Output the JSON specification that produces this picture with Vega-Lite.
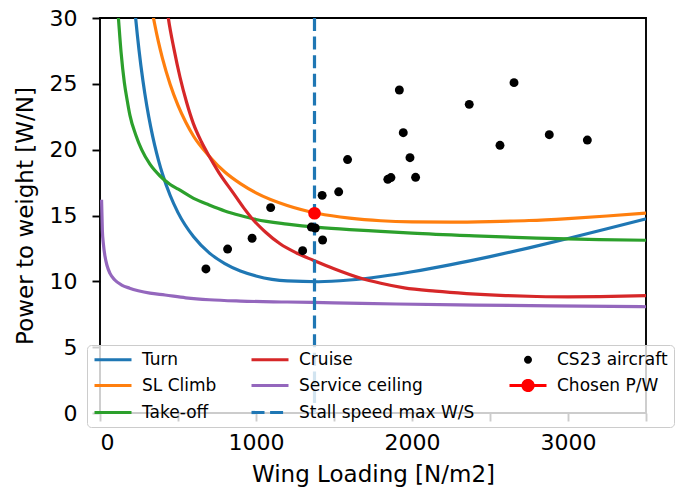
{
  "$schema": "https://vega.github.io/schema/vega-lite/v6.json",
  "width": 546,
  "height": 395,
  "autosize": {"type": "none"},
  "padding": {"left": 100, "top": 18, "right": 32, "bottom": 77},
  "background": "white",
  "config": {
    "view": {"stroke": "#000000", "strokeWidth": 1.9},
    "font": "DejaVu Sans",
    "axis": {
      "domain": false,
      "grid": false,
      "tickColor": "#000000",
      "tickWidth": 1.9,
      "tickSize": 8,
      "labelColor": "#000000",
      "labelFont": "DejaVu Sans",
      "labelFontSize": 22,
      "titleColor": "#000000",
      "titleFont": "DejaVu Sans",
      "titleFontSize": 23,
      "titleFontWeight": "normal"
    }
  },
  "datasets": {
    "curves": [
      {"series": "Turn", "wl": 200, "pw": 34.02},
      {"series": "Turn", "wl": 220, "pw": 31.08},
      {"series": "Turn", "wl": 250, "pw": 27.57},
      {"series": "Turn", "wl": 275, "pw": 25.25},
      {"series": "Turn", "wl": 300, "pw": 23.33},
      {"series": "Turn", "wl": 325, "pw": 21.73},
      {"series": "Turn", "wl": 350, "pw": 20.36},
      {"series": "Turn", "wl": 375, "pw": 19.19},
      {"series": "Turn", "wl": 400, "pw": 18.17},
      {"series": "Turn", "wl": 450, "pw": 16.52},
      {"series": "Turn", "wl": 500, "pw": 15.22},
      {"series": "Turn", "wl": 600, "pw": 13.38},
      {"series": "Turn", "wl": 700, "pw": 12.16},
      {"series": "Turn", "wl": 800, "pw": 11.34},
      {"series": "Turn", "wl": 900, "pw": 10.78},
      {"series": "Turn", "wl": 1000, "pw": 10.41},
      {"series": "Turn", "wl": 1200, "pw": 10.03},
      {"series": "Turn", "wl": 1400, "pw": 9.97},
      {"series": "Turn", "wl": 1600, "pw": 10.1},
      {"series": "Turn", "wl": 1800, "pw": 10.37},
      {"series": "Turn", "wl": 2000, "pw": 10.73},
      {"series": "Turn", "wl": 2250, "pw": 11.27},
      {"series": "Turn", "wl": 2500, "pw": 11.88},
      {"series": "Turn", "wl": 2750, "pw": 12.54},
      {"series": "Turn", "wl": 3000, "pw": 13.25},
      {"series": "Turn", "wl": 3250, "pw": 13.99},
      {"series": "Turn", "wl": 3500, "pw": 14.75},

      {"series": "SL Climb", "wl": 300, "pw": 33.05},
      {"series": "SL Climb", "wl": 330, "pw": 30.82},
      {"series": "SL Climb", "wl": 350, "pw": 29.56},
      {"series": "SL Climb", "wl": 375, "pw": 28.16},
      {"series": "SL Climb", "wl": 400, "pw": 26.95},
      {"series": "SL Climb", "wl": 450, "pw": 24.95},
      {"series": "SL Climb", "wl": 500, "pw": 23.36},
      {"series": "SL Climb", "wl": 550, "pw": 22.08},
      {"series": "SL Climb", "wl": 600, "pw": 21.02},
      {"series": "SL Climb", "wl": 700, "pw": 19.5},
      {"series": "SL Climb", "wl": 800, "pw": 18.3},
      {"series": "SL Climb", "wl": 900, "pw": 17.42},
      {"series": "SL Climb", "wl": 1000, "pw": 16.72},
      {"series": "SL Climb", "wl": 1200, "pw": 15.76},
      {"series": "SL Climb", "wl": 1400, "pw": 15.15},
      {"series": "SL Climb", "wl": 1600, "pw": 14.8},
      {"series": "SL Climb", "wl": 1800, "pw": 14.6},
      {"series": "SL Climb", "wl": 2000, "pw": 14.52},
      {"series": "SL Climb", "wl": 2250, "pw": 14.5},
      {"series": "SL Climb", "wl": 2500, "pw": 14.54},
      {"series": "SL Climb", "wl": 2750, "pw": 14.62},
      {"series": "SL Climb", "wl": 3000, "pw": 14.77},
      {"series": "SL Climb", "wl": 3250, "pw": 14.96},
      {"series": "SL Climb", "wl": 3500, "pw": 15.18},

      {"series": "Take-off", "wl": 105, "pw": 32.0},
      {"series": "Take-off", "wl": 118, "pw": 30.0},
      {"series": "Take-off", "wl": 135, "pw": 27.4},
      {"series": "Take-off", "wl": 156, "pw": 25.1},
      {"series": "Take-off", "wl": 175, "pw": 23.7},
      {"series": "Take-off", "wl": 192, "pw": 22.6},
      {"series": "Take-off", "wl": 230, "pw": 21.1},
      {"series": "Take-off", "wl": 267, "pw": 20.0},
      {"series": "Take-off", "wl": 320, "pw": 18.9},
      {"series": "Take-off", "wl": 385, "pw": 18.0},
      {"series": "Take-off", "wl": 450, "pw": 17.35},
      {"series": "Take-off", "wl": 502, "pw": 17.0},
      {"series": "Take-off", "wl": 600, "pw": 16.3},
      {"series": "Take-off", "wl": 700, "pw": 15.8},
      {"series": "Take-off", "wl": 800, "pw": 15.35},
      {"series": "Take-off", "wl": 900, "pw": 15.0},
      {"series": "Take-off", "wl": 1000, "pw": 14.7},
      {"series": "Take-off", "wl": 1200, "pw": 14.35},
      {"series": "Take-off", "wl": 1400, "pw": 14.1},
      {"series": "Take-off", "wl": 1600, "pw": 13.93},
      {"series": "Take-off", "wl": 1800, "pw": 13.8},
      {"series": "Take-off", "wl": 2000, "pw": 13.66},
      {"series": "Take-off", "wl": 2400, "pw": 13.45},
      {"series": "Take-off", "wl": 2800, "pw": 13.28},
      {"series": "Take-off", "wl": 3200, "pw": 13.17},
      {"series": "Take-off", "wl": 3500, "pw": 13.12},

      {"series": "Cruise", "wl": 400, "pw": 33.3},
      {"series": "Cruise", "wl": 420, "pw": 31.6},
      {"series": "Cruise", "wl": 438, "pw": 30.0},
      {"series": "Cruise", "wl": 475, "pw": 27.6},
      {"series": "Cruise", "wl": 513, "pw": 25.5},
      {"series": "Cruise", "wl": 555, "pw": 23.6},
      {"series": "Cruise", "wl": 598, "pw": 22.0},
      {"series": "Cruise", "wl": 650, "pw": 20.6},
      {"series": "Cruise", "wl": 700, "pw": 19.5},
      {"series": "Cruise", "wl": 760, "pw": 18.3},
      {"series": "Cruise", "wl": 855, "pw": 16.7},
      {"series": "Cruise", "wl": 920, "pw": 15.6},
      {"series": "Cruise", "wl": 983, "pw": 14.66},
      {"series": "Cruise", "wl": 1060, "pw": 13.75},
      {"series": "Cruise", "wl": 1154, "pw": 12.85},
      {"series": "Cruise", "wl": 1260, "pw": 12.15},
      {"series": "Cruise", "wl": 1367, "pw": 11.6},
      {"series": "Cruise", "wl": 1500, "pw": 10.95},
      {"series": "Cruise", "wl": 1667, "pw": 10.25},
      {"series": "Cruise", "wl": 1800, "pw": 9.85},
      {"series": "Cruise", "wl": 1950, "pw": 9.5},
      {"series": "Cruise", "wl": 2150, "pw": 9.25},
      {"series": "Cruise", "wl": 2350, "pw": 9.07},
      {"series": "Cruise", "wl": 2600, "pw": 8.92},
      {"series": "Cruise", "wl": 2800, "pw": 8.85},
      {"series": "Cruise", "wl": 3000, "pw": 8.82},
      {"series": "Cruise", "wl": 3205, "pw": 8.84},
      {"series": "Cruise", "wl": 3500, "pw": 8.92},

      {"series": "Service ceiling", "wl": 10, "pw": 16.2},
      {"series": "Service ceiling", "wl": 15, "pw": 13.9},
      {"series": "Service ceiling", "wl": 22, "pw": 12.8},
      {"series": "Service ceiling", "wl": 32, "pw": 11.9},
      {"series": "Service ceiling", "wl": 45, "pw": 11.2},
      {"series": "Service ceiling", "wl": 64, "pw": 10.6},
      {"series": "Service ceiling", "wl": 95, "pw": 10.1},
      {"series": "Service ceiling", "wl": 139, "pw": 9.72},
      {"series": "Service ceiling", "wl": 190, "pw": 9.48},
      {"series": "Service ceiling", "wl": 245, "pw": 9.29},
      {"series": "Service ceiling", "wl": 320, "pw": 9.1},
      {"series": "Service ceiling", "wl": 417, "pw": 8.96},
      {"series": "Service ceiling", "wl": 550, "pw": 8.75},
      {"series": "Service ceiling", "wl": 700, "pw": 8.6},
      {"series": "Service ceiling", "wl": 900, "pw": 8.5},
      {"series": "Service ceiling", "wl": 1200, "pw": 8.43},
      {"series": "Service ceiling", "wl": 1500, "pw": 8.37},
      {"series": "Service ceiling", "wl": 1900, "pw": 8.28},
      {"series": "Service ceiling", "wl": 2400, "pw": 8.2},
      {"series": "Service ceiling", "wl": 2900, "pw": 8.13},
      {"series": "Service ceiling", "wl": 3500, "pw": 8.07}
    ],
    "stall": [
      {"series": "Stall speed max W/S", "wl": 1375}
    ],
    "aircraft": [
      {"series": "CS23 aircraft", "wl": 679, "pw": 10.94},
      {"series": "CS23 aircraft", "wl": 818, "pw": 12.45},
      {"series": "CS23 aircraft", "wl": 975, "pw": 13.27},
      {"series": "CS23 aircraft", "wl": 1094, "pw": 15.6},
      {"series": "CS23 aircraft", "wl": 1299, "pw": 12.33},
      {"series": "CS23 aircraft", "wl": 1355, "pw": 14.12},
      {"series": "CS23 aircraft", "wl": 1380, "pw": 14.05},
      {"series": "CS23 aircraft", "wl": 1427, "pw": 13.14},
      {"series": "CS23 aircraft", "wl": 1424, "pw": 16.53},
      {"series": "CS23 aircraft", "wl": 1530, "pw": 16.8},
      {"series": "CS23 aircraft", "wl": 1587, "pw": 19.25},
      {"series": "CS23 aircraft", "wl": 1845, "pw": 17.75},
      {"series": "CS23 aircraft", "wl": 1865, "pw": 17.88},
      {"series": "CS23 aircraft", "wl": 1919, "pw": 24.53},
      {"series": "CS23 aircraft", "wl": 1944, "pw": 21.29},
      {"series": "CS23 aircraft", "wl": 1987, "pw": 19.39},
      {"series": "CS23 aircraft", "wl": 2023, "pw": 17.9},
      {"series": "CS23 aircraft", "wl": 2367, "pw": 23.44},
      {"series": "CS23 aircraft", "wl": 2564, "pw": 20.33},
      {"series": "CS23 aircraft", "wl": 2654, "pw": 25.09},
      {"series": "CS23 aircraft", "wl": 2880, "pw": 21.14},
      {"series": "CS23 aircraft", "wl": 3124, "pw": 20.73}
    ],
    "chosen": [
      {"series": "Chosen P/W", "wl": 1375, "pw": 15.17}
    ]
  },
  "layer": [
    {
      "data": {"name": "curves"},
      "mark": {"type": "line", "clip": true, "strokeWidth": 3.2, "interpolate": "monotone"},
      "encoding": {
        "x": {
          "field": "wl", "type": "quantitative",
          "scale": {"domain": [0, 3500], "nice": false, "zero": false},
          "axis": {"title": "Wing Loading [N/m2]", "values": [0, 500, 1000, 1500, 2000, 2500, 3000, 3500], "format": "d", "labelPadding": 11, "titlePadding": 10}
        },
        "y": {
          "field": "pw", "type": "quantitative",
          "scale": {"domain": [0, 30], "nice": false},
          "axis": {"title": "Power to weight [W/N]", "values": [0, 5, 10, 15, 20, 25, 30], "format": "d", "labelPadding": 15, "titlePadding": 12}
        },
        "color": {
          "field": "series", "type": "nominal",
          "scale": {
            "domain": ["Turn", "SL Climb", "Take-off", "Cruise", "Service ceiling", "Stall speed max W/S", "CS23 aircraft", "Chosen P/W"],
            "range": ["#1f77b4", "#ff7f0e", "#2ca02c", "#d62728", "#9467bd", "#1f77b4", "#000000", "#ff0000"]
          },
          "legend": {
            "title": null,
            "orient": "none",
            "direction": "vertical",
            "legendX": -13,
            "legendY": 327,
            "columns": 3,
            "gridAlign": "each",
            "labelFont": "DejaVu Sans",
            "labelFontSize": 17,
            "labelColor": "#000000",
            "labelLimit": 400,
            "labelOffset": 20.5,
            "symbolOffset": 11.5,
            "symbolSize": 100,
            "symbolStrokeWidth": 3.2,
            "rowPadding": 6,
            "columnPadding": 28,
            "padding": 6,
            "fillColor": "rgba(255,255,255,0.8)",
            "strokeColor": "#cccccc",
            "cornerRadius": 4,
            "encode": {
              "symbols": {
                "update": {
                  "shape": {"signal": "datum.value === 'CS23 aircraft' ? 'M0.8,0A0.8,0.8,0,1,1,-0.8,0A0.8,0.8,0,1,1,0.8,0Z' : datum.value === 'Chosen P/W' ? 'M-3.7,0L3.7,0M1,0A1,1,0,1,1,-1,0A1,1,0,1,1,1,0Z' : 'M-3.7,0L3.7,0'"},
                  "fill": {"signal": "datum.value === 'CS23 aircraft' ? '#000000' : datum.value === 'Chosen P/W' ? '#ff0000' : 'transparent'"},
                  "stroke": {"signal": "scale('color', datum.value)"},
                  "strokeDash": {"signal": "datum.value === 'Stall speed max W/S' ? [13, 5.6] : [1, 0]"},
                  "strokeWidth": {"signal": "datum.value === 'CS23 aircraft' ? 0 : 3.2"},
                  "opacity": {"value": 1},
                  "fillOpacity": {"value": 1},
                  "strokeOpacity": {"value": 1}
                }
              }
            }
          }
        },
        "detail": {"field": "series"}
      }
    },
    {
      "data": {"name": "stall"},
      "mark": {"type": "rule", "strokeDash": [13, 5.6], "strokeWidth": 3.2},
      "encoding": {
        "x": {"field": "wl", "type": "quantitative"},
        "color": {"field": "series", "type": "nominal"}
      }
    },
    {
      "data": {"name": "aircraft"},
      "mark": {"type": "circle", "size": 80, "opacity": 1},
      "encoding": {
        "x": {"field": "wl", "type": "quantitative"},
        "y": {"field": "pw", "type": "quantitative"},
        "color": {"field": "series", "type": "nominal"}
      }
    },
    {
      "data": {"name": "chosen"},
      "mark": {"type": "circle", "size": 160, "opacity": 1},
      "encoding": {
        "x": {"field": "wl", "type": "quantitative"},
        "y": {"field": "pw", "type": "quantitative"},
        "color": {"field": "series", "type": "nominal"}
      }
    }
  ]
}
